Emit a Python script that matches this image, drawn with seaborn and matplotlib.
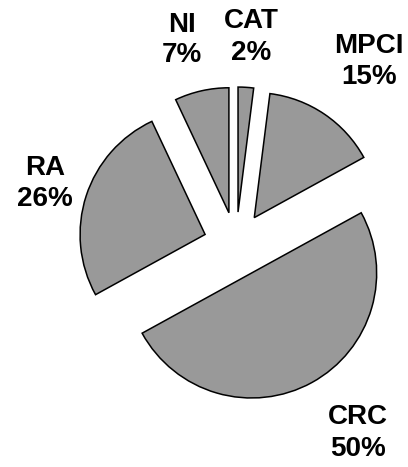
import matplotlib
matplotlib.use("Agg")
import matplotlib.pyplot as plt
import seaborn as sns

# Portfolio shares by product line, clockwise from 12 o'clock
categories = ["CAT", "MPCI", "CRC", "RA", "NI"]
shares = [2, 15, 50, 26, 7]

# Label anchor points (data units, pie radius = 1)
label_xy = {
    "CAT": (0.12, 1.66),
    "MPCI": (1.064, 1.46),
    "CRC": (0.976, -1.508),
    "RA": (-1.528, 0.484),
    "NI": (-0.432, 1.636),
}

sns.set_theme(style="white")
plt.rcParams["font.family"] = ["Liberation Sans", "DejaVu Sans"]

fig = plt.figure(figsize=(4.08, 4.67), dpi=100)
ax = fig.add_axes([0, 0, 1, 1])

wedges, _ = ax.pie(
    shares,
    startangle=90,
    counterclock=False,
    explode=[0.26] * len(shares),
    colors=["#999999"] * len(shares),
    wedgeprops=dict(edgecolor="black", linewidth=1.1),
    radius=1.0,
)

for cat, val in zip(categories, shares):
    x, y = label_xy[cat]
    ax.text(x, y, f"{cat}\n{val}%", ha="center", va="center",
            fontsize=20, fontweight="bold", linespacing=1.25, color="black")

scale = 125.0
ax.set_xlim(-236 / scale, (408 - 236) / scale)
ax.set_ylim(-(467 - 244.5) / scale, 244.5 / scale)
ax.set_aspect("equal")
ax.axis("off")

fig.savefig("out.png", dpi=100)
